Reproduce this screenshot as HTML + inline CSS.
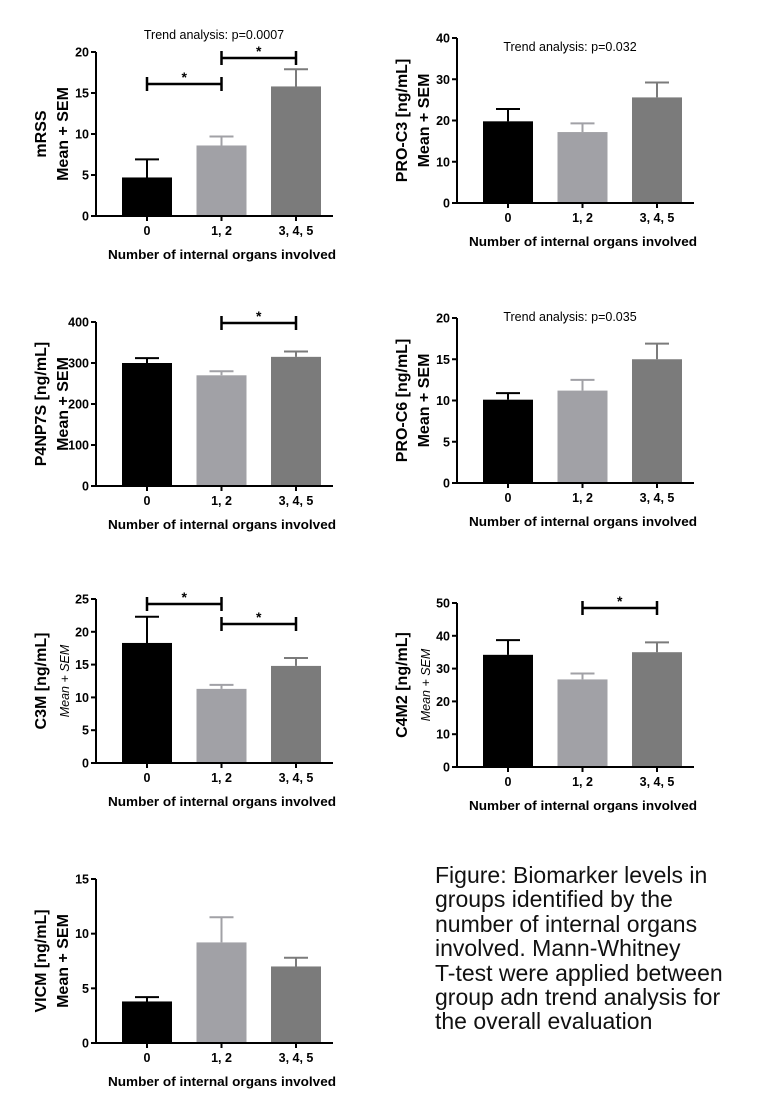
<!DOCTYPE html>
<html><head><meta charset="utf-8"><style>
html,body{margin:0;padding:0;background:#fff;}
svg{display:block;font-family:"Liberation Sans",Arial,sans-serif;}
.fig{position:absolute;left:435px;top:863px;font-family:"Liberation Sans",Arial,sans-serif;font-size:23px;line-height:24.4px;color:#111;white-space:nowrap;}
</style></head><body>
<svg id="c" width="760" height="1119"></svg>
<div class="fig">Figure: Biomarker levels in<br>groups identified by the<br>number of internal organs<br>involved. Mann-Whitney<br>T-test were applied between<br>group adn trend analysis for<br>the overall evaluation</div>
<script>
const categories = ["0", "1, 2", "3, 4, 5"];
const mrssMeans = [4.7, 8.6, 15.8];
const mrssUpper = [6.9, 9.7, 17.9];
const mrssTicks = [0, 5, 10, 15, 20];
const proc3Means = [19.8, 17.2, 25.6];
const proc3Upper = [22.8, 19.3, 29.2];
const proc3Ticks = [0, 10, 20, 30, 40];
const p4np7sMeans = [300, 270, 315];
const p4np7sUpper = [312, 280, 328];
const p4np7sTicks = [0, 100, 200, 300, 400];
const proc6Means = [10.1, 11.2, 15.0];
const proc6Upper = [10.9, 12.5, 16.9];
const proc6Ticks = [0, 5, 10, 15, 20];
const c3mMeans = [18.3, 11.3, 14.8];
const c3mUpper = [22.3, 11.9, 16.0];
const c3mTicks = [0, 5, 10, 15, 20, 25];
const c4m2Means = [34.2, 26.7, 35.0];
const c4m2Upper = [38.7, 28.5, 38.0];
const c4m2Ticks = [0, 10, 20, 30, 40, 50];
const vicmMeans = [3.8, 9.2, 7.0];
const vicmUpper = [4.2, 11.5, 7.8];
const vicmTicks = [0, 5, 10, 15];
const colors = ["#000000", "#a1a1a6", "#7b7b7b"];

const NS = "http://www.w3.org/2000/svg";
const svg = document.getElementById("c");
function mk(tag, attrs, parent, txt) {
  const e = document.createElementNS(NS, tag);
  for (const k in attrs) e.setAttribute(k, attrs[k]);
  if (txt !== undefined) e.textContent = txt;
  (parent || svg).appendChild(e);
  return e;
}
function panel(p) {
  const g = mk("g", {});
  
  
  const max = p.ticks[p.ticks.length - 1];
  const y = v => p.y0 - (v / max) * (p.y0 - p.yTop);
  const bx = i => p.ax + 26 + i * 74.5;
  p.means.forEach((m, i) => {
    const r = mk("rect", {x: bx(i), y: y(m), width: 50, height: p.y0 - y(m), fill: colors[i]}, g);
    
    
    const cx = bx(i) + 25;
    const e = mk("path", {d: `M${cx} ${y(m)}V${y(p.upper[i])}M${cx-12} ${y(p.upper[i])}H${cx+12}`, stroke: colors[i], "stroke-width": 2, fill: "none"}, g);
    
    
  });
  const ax = mk("path", {d: `M${p.ax} ${p.yTop}V${p.y0}H${p.ax + 237}`, stroke: "#000", "stroke-width": 2, fill: "none"}, g);
  
  
  p.ticks.forEach(t => {
    mk("line", {x1: p.ax - 5, x2: p.ax, y1: y(t), y2: y(t), stroke: "#000", "stroke-width": 2}, g);
    const tl = mk("text", {x: p.ax - 7, y: y(t) + 4.5, "text-anchor": "end", "font-size": 12.5, "font-weight": "bold"}, g, t);
    
    
  });
  categories.forEach((c, i) => {
    const cx = bx(i) + 25;
    mk("line", {x1: cx, x2: cx, y1: p.y0, y2: p.y0 + 5, stroke: "#000", "stroke-width": 2}, g);
    const cl = mk("text", {x: cx, y: p.y0 + 19, "text-anchor": "middle", "font-size": 12.5, "font-weight": "bold"}, g, c);
    
    
  });
  const xt = mk("text", {x: p.ax + 126, y: p.y0 + 43, "text-anchor": "middle", "font-size": 12.5, "font-weight": "bold", textLength: 228, lengthAdjust: "spacingAndGlyphs"}, g, "Number of internal organs involved");
  
  
  const midY = (p.y0 + p.yTop) / 2;
  const y1 = mk("text", {transform: `translate(${p.ax - 50},${midY}) rotate(-90)`, "text-anchor": "middle", "font-size": 16, "font-weight": "bold"}, g, p.title);
  
  
  const y2 = p.italic
    ? mk("text", {transform: `translate(${p.ax - 27},${midY}) rotate(-90)`, "text-anchor": "middle", "font-size": 12.5, "font-style": "italic"}, g, "Mean + SEM")
    : mk("text", {transform: `translate(${p.ax - 28},${midY}) rotate(-90)`, "text-anchor": "middle", "font-size": 16, "font-weight": "bold"}, g, "Mean + SEM");
  
  
  if (p.trend) {
    const tr = mk("text", {x: p.trend[0], y: p.trend[1], "text-anchor": "middle", "font-size": 12.5}, g, p.trend[2]);
    
    
  }
  (p.brackets || []).forEach(b => {
    const x1 = bx(b[0]) + 25, x2 = bx(b[1]) + 25;
    const br = mk("path", {d: `M${x1} ${b[2]-7}V${b[2]+7}M${x1} ${b[2]}H${x2}M${x2} ${b[2]-7}V${b[2]+7}`, stroke: "#000", "stroke-width": 2.5, fill: "none"}, g);
    
    
    const st = mk("text", {x: (x1 + x2) / 2, y: b[2] - 2, "text-anchor": "middle", "font-size": 14, "font-weight": "bold"}, g, "*");
    
    
  });
}
panel({id: "mrss", title: "mRSS", ax: 96, y0: 216, yTop: 52, means: mrssMeans, upper: mrssUpper, ticks: mrssTicks,
  trend: [214, 39, "Trend analysis: p=0.0007"], brackets: [[0, 1, 84], [1, 2, 58]]});
panel({id: "pro-c3", title: "PRO-C3 [ng/mL]", ax: 457, y0: 203, yTop: 38, means: proc3Means, upper: proc3Upper, ticks: proc3Ticks,
  trend: [570, 51, "Trend analysis: p=0.032"]});
panel({id: "p4np7s", title: "P4NP7S [ng/mL]", ax: 96, y0: 486, yTop: 322, means: p4np7sMeans, upper: p4np7sUpper, ticks: p4np7sTicks,
  brackets: [[1, 2, 323]]});
panel({id: "pro-c6", title: "PRO-C6 [ng/mL]", ax: 457, y0: 483, yTop: 318, means: proc6Means, upper: proc6Upper, ticks: proc6Ticks,
  trend: [570, 321, "Trend analysis: p=0.035"]});
panel({id: "c3m", title: "C3M [ng/mL]", ax: 96, y0: 763, yTop: 599, means: c3mMeans, upper: c3mUpper, ticks: c3mTicks, italic: true,
  brackets: [[0, 1, 604], [1, 2, 624]]});
panel({id: "c4m2", title: "C4M2 [ng/mL]", ax: 457, y0: 767, yTop: 603, means: c4m2Means, upper: c4m2Upper, ticks: c4m2Ticks, italic: true,
  brackets: [[1, 2, 608]]});
panel({id: "vicm", title: "VICM [ng/mL]", ax: 96, y0: 1043, yTop: 879, means: vicmMeans, upper: vicmUpper, ticks: vicmTicks});
</script>
</body></html>
